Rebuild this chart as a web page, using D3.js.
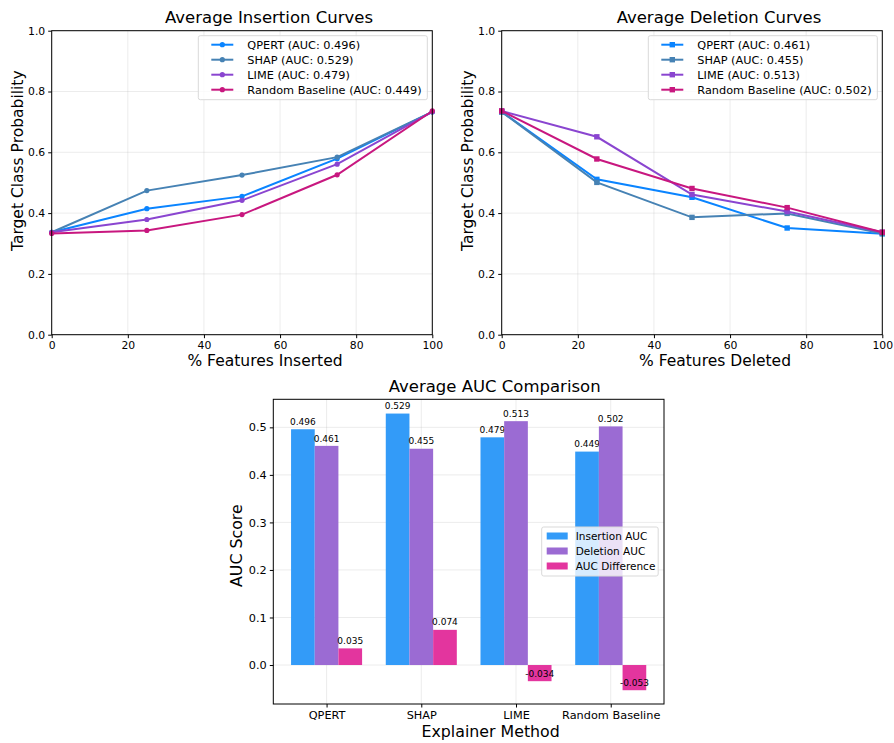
<!DOCTYPE html>
<html>
<head>
<meta charset="utf-8">
<script src="https://cdn.jsdelivr.net/npm/d3@7"></script>
<style>
  body { margin: 0; background: #fff; }
  text { font-family: "DejaVu Sans", sans-serif; fill: #000; }
</style>
</head>
<body>
<div id="chart"></div>
<script>
var width = 894, height = 743;

// data
var pct = [0, 25, 50, 75, 100];
var methods = ["QPERT", "SHAP", "LIME", "Random Baseline"];
var lineColors = ["#0a84ff", "#4682b4", "#8a45d0", "#c8177f"];

var insQPERT = [0.337, 0.4145, 0.455, 0.579, 0.733];
var insSHAP = [0.337, 0.474, 0.525, 0.584, 0.733];
var insLIME = [0.337, 0.379, 0.442, 0.561, 0.733];
var insRandom = [0.333, 0.343, 0.395, 0.526, 0.736];

var delQPERT = [0.733, 0.511, 0.452, 0.351, 0.332];
var delSHAP = [0.733, 0.501, 0.386, 0.399, 0.333];
var delLIME = [0.736, 0.651, 0.461, 0.405, 0.337];
var delRandom = [0.736, 0.578, 0.481, 0.418, 0.337];

var insAUC = [0.496, 0.529, 0.479, 0.449];
var delAUC = [0.461, 0.455, 0.513, 0.502];
var diffAUC = [0.035, 0.074, -0.034, -0.053];

var barSeries = ["Insertion AUC", "Deletion AUC", "AUC Difference"];
var barColors = ["#339bf8", "#9b6bd3", "#e3359e"];

var probTicks = [0, 0.2, 0.4, 0.6, 0.8, 1.0];
var pctTicks = [0, 20, 40, 60, 80, 100];
var aucTicks = [0, 0.1, 0.2, 0.3, 0.4, 0.5];

var svg = d3.select("#chart").append("svg").attr("width", width).attr("height", height);

function lineChart(left, right, top, bottom, series, aucs, title, xlabel, marker) {
    var x = d3.scaleLinear().domain([0, 100]).range([left, right]);
    var y = d3.scaleLinear().domain([0, 1]).range([bottom, top]);
    var g = svg.append("g");

    // grid
    g.selectAll(".vg").data(pctTicks).enter().append("line")
        .attr("x1", d => x(d)).attr("x2", d => x(d)).attr("y1", top).attr("y2", bottom)
        .attr("stroke", "#b0b0b0").attr("stroke-opacity", 0.3).attr("stroke-width", 0.8);
    g.selectAll(".hg").data(probTicks).enter().append("line")
        .attr("y1", d => y(d)).attr("y2", d => y(d)).attr("x1", left).attr("x2", right)
        .attr("stroke", "#b0b0b0").attr("stroke-opacity", 0.3).attr("stroke-width", 0.8);

    var line = d3.line().x((d, i) => x(pct[i])).y(d => y(d));
    series.forEach(function(s, k) {
        g.append("path").attr("d", line(s)).attr("fill", "none")
            .attr("stroke", lineColors[k]).attr("stroke-width", 2);
        drawMarkers(g, s.map((v, i) => [x(pct[i]), y(v)]), lineColors[k], marker);
    });

    // axes
    g.append("g").attr("transform", "translate(0," + bottom + ")")
        .call(d3.axisBottom(x).tickValues(pctTicks).tickSize(3.5).tickPadding(3).tickFormat(d3.format("d")));
    g.append("g").attr("transform", "translate(" + left + ",0)")
        .call(d3.axisLeft(y).tickValues(probTicks).tickSize(3.5).tickPadding(3).tickFormat(d3.format(".1f")));
    g.selectAll(".tick text").style("font-size", "10.8px");
    g.selectAll(".domain").remove();
    g.append("rect").attr("x", left).attr("y", top).attr("width", right - left).attr("height", bottom - top)
        .attr("fill", "none").attr("stroke", "#000").attr("stroke-width", 1);

    g.append("text").attr("x", (left + right) / 2 + 27).attr("y", top - 8).attr("text-anchor", "middle")
        .style("font-size", "16.5px").text(title);
    g.append("text").attr("x", (left + right) / 2 + 23).attr("y", bottom + 31).attr("text-anchor", "middle")
        .style("font-size", "15.5px").text(xlabel);
    g.append("text").attr("transform", "translate(" + (left - 29) + "," + ((top + bottom) / 2 - 22) + ") rotate(-90)")
        .attr("text-anchor", "middle").style("font-size", "15.5px").text("Target Class Probability");

    // legend
    var lx = right - 234, ly = top + 5;
    g.append("rect").attr("x", lx).attr("y", ly).attr("width", 229).attr("height", 64).attr("rx", 2)
        .attr("fill", "#fff").attr("fill-opacity", 0.8).attr("stroke", "#d9d9d9");
    methods.forEach(function(m, k) {
        var yy = ly + 9 + k * 15;
        g.append("line").attr("x1", lx + 13).attr("x2", lx + 35).attr("y1", yy).attr("y2", yy)
            .attr("stroke", lineColors[k]).attr("stroke-width", 2);
        drawMarkers(g, [[lx + 24, yy]], lineColors[k], marker);
        g.append("text").attr("x", lx + 49).attr("y", yy + 4).style("font-size", "11.3px")
            .text(m + " (AUC: " + aucs[k].toFixed(3) + ")");
    });
}

function drawMarkers(g, pts, color, marker) {
    if (marker === "circle") {
        g.selectAll(null).data(pts).enter().append("circle")
            .attr("cx", d => d[0]).attr("cy", d => d[1]).attr("r", 2.6).attr("fill", color);
    } else {
        g.selectAll(null).data(pts).enter().append("rect")
            .attr("x", d => d[0] - 2.7).attr("y", d => d[1] - 2.7).attr("width", 5.4).attr("height", 5.4).attr("fill", color);
    }
}

lineChart(51.7, 432.3, 30.7, 334.7, [insQPERT, insSHAP, insLIME, insRandom], insAUC,
    "Average Insertion Curves", "% Features Inserted", "circle");
lineChart(501.7, 882.3, 30.7, 334.7, [delQPERT, delSHAP, delLIME, delRandom], delAUC,
    "Average Deletion Curves", "% Features Deleted", "square");

// bar chart
(function() {
    var left = 273.3, right = 664, top = 399.3, bottom = 704;
    var n = methods.length, bw = 0.25;
    var x = d3.scaleLinear().domain([-0.5625, 3.5625]).range([left, right]);
    var y = d3.scaleLinear().domain([-0.082, 0.559]).range([bottom, top]);
    var g = svg.append("g");

    g.selectAll(".vg").data(d3.range(n)).enter().append("line")
        .attr("x1", d => x(d)).attr("x2", d => x(d)).attr("y1", top).attr("y2", bottom)
        .attr("stroke", "#b0b0b0").attr("stroke-opacity", 0.3).attr("stroke-width", 0.8);
    g.selectAll(".hg").data(aucTicks).enter().append("line")
        .attr("y1", d => y(d)).attr("y2", d => y(d)).attr("x1", left).attr("x2", right)
        .attr("stroke", "#b0b0b0").attr("stroke-opacity", 0.3).attr("stroke-width", 0.8);

    [insAUC, delAUC, diffAUC].forEach(function(vals, s) {
        var off = (s - 1) * bw;
        g.selectAll(null).data(vals).enter().append("rect")
            .attr("x", (d, i) => x(i + off - bw / 2))
            .attr("width", (d, i) => x(i + off + bw / 2) - x(i + off - bw / 2))
            .attr("y", d => y(Math.max(0, d)))
            .attr("height", d => Math.abs(y(d) - y(0)))
            .attr("fill", barColors[s]);
        g.selectAll(null).data(vals).enter().append("text")
            .attr("x", (d, i) => x(i + off))
            .attr("y", d => y(d + 0.005) - 2)
            .attr("text-anchor", "middle").style("font-size", "9px")
            .text(d => d.toFixed(3));
    });

    g.append("g").attr("transform", "translate(0," + bottom + ")")
        .call(d3.axisBottom(x).tickValues(d3.range(n)).tickSize(3.5).tickPadding(3).tickFormat(i => methods[i]));
    g.append("g").attr("transform", "translate(" + left + ",0)")
        .call(d3.axisLeft(y).tickValues(aucTicks).tickSize(3.5).tickPadding(3).tickFormat(d3.format(".1f")));
    g.selectAll(".tick text").style("font-size", "11.3px");
    g.selectAll(".domain").remove();
    g.append("rect").attr("x", left).attr("y", top).attr("width", right - left).attr("height", bottom - top)
        .attr("fill", "none").attr("stroke", "#000").attr("stroke-width", 1);

    g.append("text").attr("x", (left + right) / 2 + 26).attr("y", top - 7).attr("text-anchor", "middle")
        .style("font-size", "16.5px").text("Average AUC Comparison");
    g.append("text").attr("x", (left + right) / 2 + 22).attr("y", bottom + 33).attr("text-anchor", "middle")
        .style("font-size", "15.8px").text("Explainer Method");
    g.append("text").attr("transform", "translate(" + (left - 31) + "," + ((top + bottom) / 2 - 6) + ") rotate(-90)")
        .attr("text-anchor", "middle").style("font-size", "15.8px").text("AUC Score");

    var lx = 541.7, ly = 527;
    g.append("rect").attr("x", lx).attr("y", ly).attr("width", 116.5).attr("height", 49).attr("rx", 2)
        .attr("fill", "#fff").attr("fill-opacity", 0.8).attr("stroke", "#d9d9d9");
    barSeries.forEach(function(name, k) {
        var yy = ly + 9 + k * 15;
        g.append("rect").attr("x", lx + 5).attr("y", yy - 3.5).attr("width", 21).attr("height", 7).attr("fill", barColors[k]);
        g.append("text").attr("x", lx + 34).attr("y", yy + 4).style("font-size", "10.5px").text(name);
    });
})();
</script>
</body>
</html>
